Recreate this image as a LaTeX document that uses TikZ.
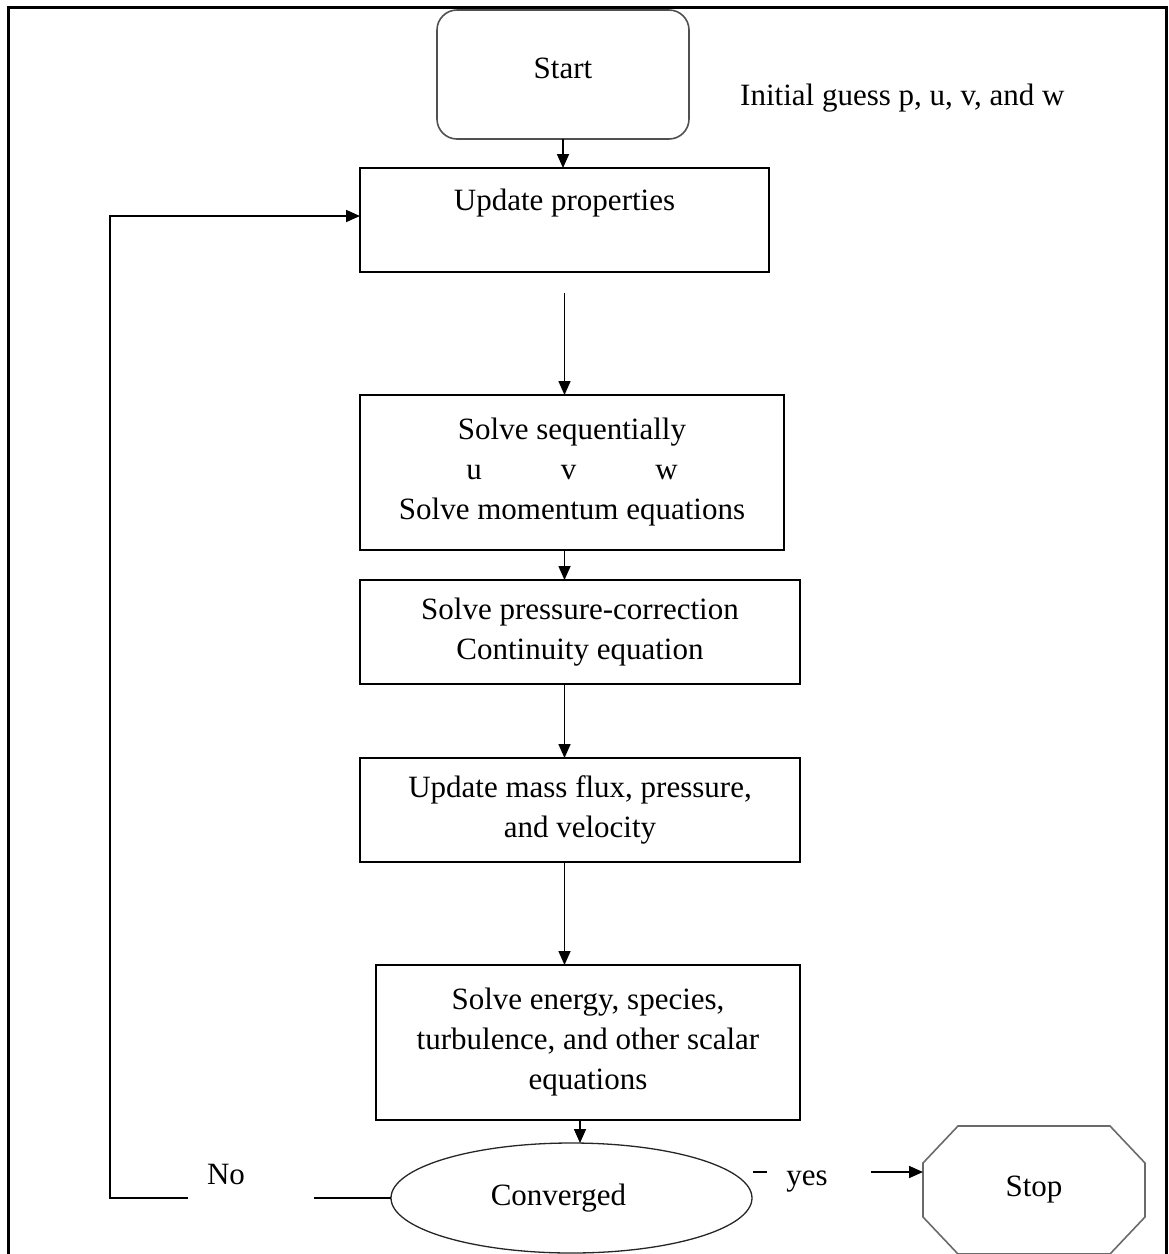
\documentclass[tikz,border=0pt]{standalone}
\usepackage{fontspec}
\setmainfont{Liberation Serif}
\usetikzlibrary{arrows.meta,positioning,shapes.geometric,calc}
\definecolor{fcgrey}{HTML}{505050}
\definecolor{fcoct}{HTML}{6A6A6A}

\begin{document}
\begin{tikzpicture}[
    x=1pt, y=1pt,
    font=\fontsize{31}{40}\selectfont,
    block/.style={draw=black, fill=white, rectangle, align=center, line width=1.6pt, inner sep=0pt, outer sep=0pt},
    startblock/.style={draw=fcgrey, rectangle, rounded corners=20pt, minimum width=252pt, minimum height=129pt, align=center, line width=1.6pt, text depth=12pt, outer sep=0pt},
    decision/.style={draw=black!85, ellipse, minimum width=361pt, minimum height=110pt, line width=1.3pt, inner sep=0pt, outer sep=0pt},
    stopblock/.style={minimum width=222pt, minimum height=128pt, inner sep=0pt, outer sep=0pt},
    octagon/.style={draw=fcoct, line width=1.6pt},
    arrow/.style={-{Triangle[length=14pt,width=12pt]}, draw=black, line width=1.6pt},
    link/.style={draw=black, line width=1.6pt},
    frame/.style={draw=black, line width=3pt}
  ]
    \useasboundingbox (0,0) rectangle (1169,-1254);
    \draw[frame] (8,-7.5) rectangle (1166,-1275);

    \node[startblock] (start) at (563,-74.5) {Start};
    \node[anchor=base west, inner sep=0pt] (guess) at (740,-105) {Initial guess p, u, v, and w};
    \node[block, minimum width=409pt, minimum height=104pt, below=29pt of start, xshift=1.5pt] (upd) {Update properties\\ \mbox{}};
    \coordinate[below=21pt of upd.south] (gapstart);
    \node[block, minimum width=424pt, minimum height=155pt, below=123pt of upd.south west, anchor=north west] (seq) {Solve sequentially\\ u\hspace{2.55em}v\hspace{2.55em}w\\ Solve momentum equations};
    \node[block, minimum width=440pt, minimum height=104pt, below=30pt of seq.south west, anchor=north west] (pres) {Solve pressure-correction\\ Continuity equation};
    \node[block, minimum width=440pt, minimum height=104pt, below=74pt of pres.south west, anchor=north west] (mass) {Update mass flux, pressure,\\ and velocity};
    \node[block, minimum width=424pt, minimum height=155pt, below=103pt of mass.south east, anchor=north east] (energy) {Solve energy, species,\\ turbulence, and other scalar\\ equations};
    \node[decision, below=23pt of energy.south, xshift=-16.5pt] (conv) {\hspace*{-26pt}Converged};
    \node[stopblock, right=171pt of conv, yshift=8pt] (stop) {Stop};
    \draw[octagon] ([xshift=35pt]stop.north west) -- ([xshift=-35pt]stop.north east) -- ([yshift=-37pt]stop.north east) -- ([yshift=37pt]stop.south east) -- ([xshift=-35pt]stop.south east) -- ([xshift=35pt]stop.south west) -- ([yshift=37pt]stop.south west) -- ([yshift=-37pt]stop.north west) -- cycle;

    \node[anchor=base] (no) at (226,-1184) {No};
    \node[anchor=base] (yes) at (807,-1185) {yes};

    \draw[arrow] (start) -- (start |- upd.north);
    \draw[arrow] (gapstart) -- (gapstart |- seq.north);
    \draw[arrow] (gapstart |- seq.south) -- (gapstart |- pres.north);
    \draw[arrow] (gapstart |- pres.south) -- (gapstart |- mass.north);
    \draw[arrow] (gapstart |- mass.south) -- (gapstart |- energy.north);
    \draw[arrow] ([xshift=-8pt]energy.south) -- ([xshift=-8pt]energy.south |- conv.north);

    % loop back when not converged
    \coordinate[left=77pt of conv.west] (nogapR);
    \coordinate[left=203pt of conv.west] (nogapL);
    \draw[link] (conv.west) -- (nogapR);
    \draw[arrow] (nogapL) -- ++(-78,0) |- ([yshift=4pt]upd.west);

    % converged
    \draw[link] ([xshift=1pt,yshift=26pt]conv.east) -- ++(14,0);
    \draw[arrow] ([xshift=-52pt,yshift=18pt]stop.west) -- ([yshift=18pt]stop.west);
  \end{tikzpicture}
\end{document}
